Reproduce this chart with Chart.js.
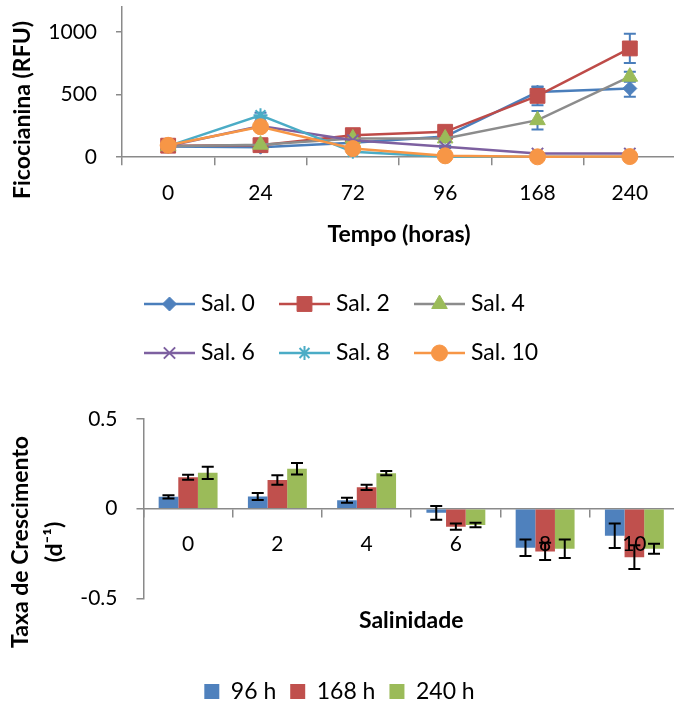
<!DOCTYPE html>
<html>
<head>
<meta charset="utf-8">
<script src="https://cdn.jsdelivr.net/npm/chart.js"></script>
<style>
  html, body { margin: 0; padding: 0; background: #fff; overflow: hidden; }
  #wrap { position: relative; width: 674px; height: 706px; overflow: hidden; }
  canvas { position: absolute; left: 0; }
  #pigChart { top: 0; }
  #rateChart { top: 380px; }
</style>
</head>
<body>
<div id="wrap">
  <canvas id="pigChart" width="680" height="380"></canvas>
  <canvas id="rateChart" width="680" height="333"></canvas>
</div>
<script>
// phycocyanin (RFU) per salinity over time
const hours = ["0", "24", "72", "96", "168", "240"];
const pigTicks = [0, 500, 1000];
const sal0 = [85, 80, 115, 165, 520, 549];
const sal2 = [92, 96, 176, 203, 490, 869];
const sal4 = [88, 100, 150, 150, 296, 643];
const sal6 = [90, 250, 136, 83, 29, 29];
const sal8 = [88, 335, 43, 3, 3, 3];
const sal10 = [95, 243, 69, 11, 3, 5];
const sal0Err = [10, 10, 10, 15, 40, 67];
const sal2Err = [10, 10, 15, 20, 75, 117];
const sal4Err = [10, 10, 10, 15, 74, 40];
const sal6Err = [5, 15, 10, 10, 5, 5];
const sal8Err = [5, 20, 10, 3, 3, 3];
const sal10Err = [5, 15, 10, 3, 3, 3];

// growth rate (d-1) per salinity
const salinity = ["0", "2", "4", "6", "8", "10"];
const rateTicks = [-0.5, 0, 0.5];
const rate96 = [0.066, 0.068, 0.047, -0.023, -0.217, -0.151];
const rate168 = [0.175, 0.160, 0.119, -0.100, -0.238, -0.270];
const rate240 = [0.200, 0.223, 0.198, -0.091, -0.223, -0.223];
const err96 = [0.009, 0.019, 0.014, 0.038, 0.046, 0.068];
const err168 = [0.014, 0.026, 0.015, 0.018, 0.048, 0.066];
const err240 = [0.034, 0.032, 0.012, 0.012, 0.052, 0.028];

Chart.defaults.font.family = "Lato, 'Noto Sans', sans-serif";
Chart.defaults.color = "#000";

const axisGray = "#8a8a8a";
const tickFont = { size: 21 };
const boldFont = { size: 23, weight: "bold" };

function lineSet(label, data, errors, lineColor, markColor, style, radius, order) {
  return {
    label: label,
    data: data,
    errors: errors,
    borderColor: lineColor,
    borderWidth: 2.5,
    pointStyle: style,
    pointRadius: radius,
    pointBackgroundColor: markColor,
    pointBorderColor: markColor,
    pointBorderWidth: (style == "crossRot" || style == "star") ? 2 : 1,
    clip: false,
    order: order
  };
}

// vertical error bars under the lines
const lineErrors = {
  id: "lineErrors",
  beforeDatasetsDraw(chart) {
    const ctx = chart.ctx;
    const y = chart.scales.y;
    ctx.save();
    ctx.strokeStyle = "#4A7EBB";
    ctx.lineWidth = 2;
    chart.data.datasets.forEach((ds, i) => {
      chart.getDatasetMeta(i).data.forEach((pt, j) => {
        const top = y.getPixelForValue(ds.data[j] + ds.errors[j]);
        const bot = y.getPixelForValue(Math.max(ds.data[j] - ds.errors[j], 0));
        ctx.beginPath();
        ctx.moveTo(pt.x, top); ctx.lineTo(pt.x, bot);
        ctx.moveTo(pt.x - 6, top); ctx.lineTo(pt.x + 6, top);
        ctx.moveTo(pt.x - 6, bot); ctx.lineTo(pt.x + 6, bot);
        ctx.stroke();
      });
    });
    ctx.restore();
  }
};

// legend in rows of three, line with marker like the original
const rowLegend = {
  id: "rowLegend",
  afterDraw(chart, args, opts) {
    const ctx = chart.ctx;
    ctx.save();
    ctx.font = opts.font;
    ctx.textBaseline = "middle";
    ctx.textAlign = "left";
    chart.data.datasets.forEach((ds, i) => {
      const x = opts.left + (i % opts.perRow) * opts.colWidth;
      const y = opts.top + Math.floor(i / opts.perRow) * opts.rowHeight;
      ctx.strokeStyle = ds.borderColor;
      ctx.lineWidth = ds.borderWidth;
      ctx.beginPath();
      ctx.moveTo(x, y);
      ctx.lineTo(x + opts.lineLength, y);
      ctx.stroke();
      ctx.fillStyle = ds.pointBackgroundColor;
      ctx.strokeStyle = ds.pointBorderColor;
      ctx.lineWidth = ds.pointBorderWidth;
      Chart.helpers.drawPoint(ctx, {
        pointStyle: ds.pointStyle,
        radius: ds.pointRadius,
        borderWidth: ds.pointBorderWidth,
        rotation: 0
      }, x + opts.lineLength / 2, y);
      ctx.fillStyle = "#000";
      ctx.fillText(ds.label, x + opts.textOffset, y);
    });
    ctx.restore();
  }
};

const pigChart = new Chart(document.getElementById("pigChart"), {
  type: "line",
  data: {
    labels: hours,
    datasets: [
      lineSet("Sal. 0", sal0, sal0Err, "#4A7EBB", "#4F81BD", "rectRot", 7, 5),
      lineSet("Sal. 2", sal2, sal2Err, "#BE4B48", "#C0504D", "rect", 10.5, 4),
      lineSet("Sal. 4", sal4, sal4Err, "#8C8C8C", "#9BBB59", "triangle", 9, 3),
      lineSet("Sal. 6", sal6, sal6Err, "#7D60A0", "#7D60A0", "crossRot", 8, 2),
      lineSet("Sal. 8", sal8, sal8Err, "#4BACC6", "#4BACC6", "star", 7, 1),
      lineSet("Sal. 10", sal10, sal10Err, "#F79646", "#F79646", "circle", 8, 0)
    ]
  },
  plugins: [lineErrors, rowLegend],
  options: {
    responsive: false,
    animation: false,
    events: [],
    layout: { autoPadding: false, padding: { top: -28, right: 4, bottom: 132, left: 0 } },
    plugins: {
      legend: { display: false },
      tooltip: { enabled: false },
      title: {
        display: true,
        position: "left",
        text: "Ficocianina (RFU)",
        font: boldFont,
        padding: { top: 9, bottom: 0 }
      },
      rowLegend: {
        font: "23px Lato, 'Noto Sans', sans-serif",
        left: 144, top: 304, perRow: 3,
        colWidth: 135, rowHeight: 49,
        lineLength: 51, textOffset: 57
      }
    },
    scales: {
      x: {
        offset: true,
        grid: { offset: true, drawOnChartArea: false, tickLength: 8, color: axisGray, lineWidth: 1.5 },
        border: { color: axisGray, width: 1.5 },
        ticks: { font: tickFont, padding: 15, maxRotation: 0, autoSkip: false },
        title: { display: true, text: "Tempo (horas)", font: boldFont, padding: 0 }
      },
      y: {
        min: 0,
        max: 1200,
        afterBuildTicks(s) { s.ticks = pigTicks.map(v => ({ value: v })); },
        afterFit(s) { s.width = 85.4; s.paddingTop = 7; s.paddingBottom = 0; },
        grid: { drawOnChartArea: false, tickLength: 6, color: axisGray, lineWidth: 1.5 },
        border: { color: axisGray, width: 1.5 },
        ticks: { font: tickFont, padding: 19, callback: v => String(v) }
      }
    }
  }
});

// black error bars on top of the bars
const barErrors = {
  id: "barErrors",
  afterDatasetsDraw(chart) {
    const ctx = chart.ctx;
    const y = chart.scales.y;
    ctx.save();
    ctx.strokeStyle = "#000";
    ctx.lineWidth = 2;
    chart.data.datasets.forEach((ds, i) => {
      chart.getDatasetMeta(i).data.forEach((bar, j) => {
        const top = y.getPixelForValue(ds.data[j] + ds.errors[j]);
        const bot = y.getPixelForValue(ds.data[j] - ds.errors[j]);
        ctx.beginPath();
        ctx.moveTo(bar.x, top); ctx.lineTo(bar.x, bot);
        ctx.moveTo(bar.x - 6, top); ctx.lineTo(bar.x + 6, top);
        ctx.moveTo(bar.x - 6, bot); ctx.lineTo(bar.x + 6, bot);
        ctx.stroke();
      });
    });
    ctx.restore();
  }
};

const rateChart = new Chart(document.getElementById("rateChart"), {
  type: "bar",
  data: {
    labels: salinity,
    datasets: [
      { label: "96 h", data: rate96, errors: err96, backgroundColor: "#4F81BD" },
      { label: "168 h", data: rate168, errors: err168, backgroundColor: "#C0504D" },
      { label: "240 h", data: rate240, errors: err240, backgroundColor: "#9BBB59" }
    ]
  },
  plugins: [barErrors],
  options: {
    responsive: false,
    animation: false,
    events: [],
    datasets: { bar: { categoryPercentage: 0.66, barPercentage: 1, borderWidth: 0 } },
    layout: { autoPadding: false, padding: { top: -9, right: 1, bottom: 0, left: 0 } },
    plugins: {
      tooltip: { enabled: false },
      title: {
        display: true,
        position: "left",
        text: ["Taxa de Crescimento", "(d\u207B\u00B9)"],
        font: { size: 23, weight: "bold", lineHeight: 1.48 },
        padding: { top: 4, bottom: 0 }
      },
      subtitle: {
        display: true,
        position: "bottom",
        fullSize: false,
        weight: 500,
        text: "Salinidade",
        font: boldFont,
        color: "#000",
        padding: { top: 8, bottom: 32 }
      },
      legend: {
        position: "bottom",
        labels: { boxWidth: 15, boxHeight: 15, padding: 14, font: { size: 23 } }
      }
    },
    scales: {
      x: {
        position: { y: 0 },
        grid: { offset: true, drawOnChartArea: false, tickLength: 8, color: axisGray, lineWidth: 1.5 },
        border: { color: axisGray, width: 1.5 },
        ticks: { font: tickFont, padding: 15, maxRotation: 0, autoSkip: false, z: 1 }
      },
      y: {
        min: -0.5,
        max: 0.5,
        afterBuildTicks(s) { s.ticks = rateTicks.map(v => ({ value: v })); },
        afterFit(s) { s.width = 71.4; s.paddingTop = 39; s.paddingBottom = 0; },
        grid: { drawOnChartArea: false, tickLength: 7, color: axisGray, lineWidth: 1.5 },
        border: { color: axisGray, width: 1.5 },
        ticks: { font: tickFont, padding: 19, callback: v => String(v) }
      }
    }
  }
});
</script>
</body>
</html>
